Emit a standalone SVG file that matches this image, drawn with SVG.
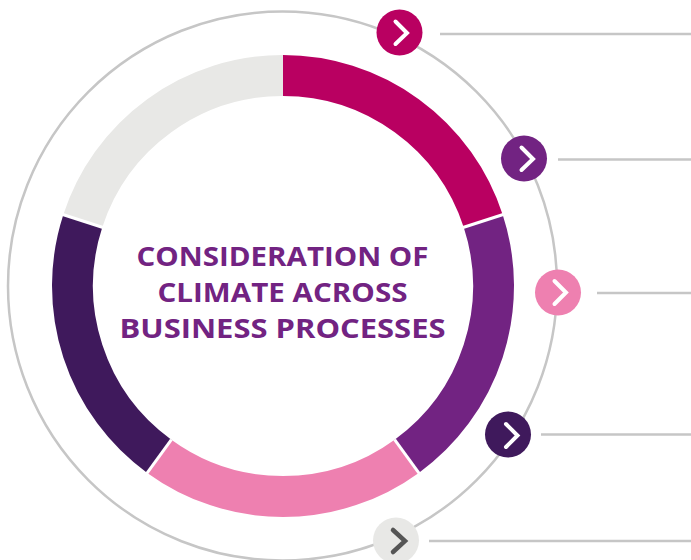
<svg xmlns="http://www.w3.org/2000/svg" width="691" height="560" viewBox="0 0 691 560">
<style>
.seg{fill:none;stroke-width:41}
.sep{stroke:#fff;stroke-width:3}
.lead{stroke:#c6c6c6;stroke-width:2.500;fill:none}
.chev{fill:none;stroke:#fff;stroke-width:4;stroke-linecap:round;stroke-linejoin:miter}
.title{font-family:"Open Sans","Liberation Sans",sans-serif;font-weight:700;font-size:27px;fill:#722382;text-anchor:middle}
</style>
<rect width="691" height="560" fill="#fff"/>
<g id="connectors">
<circle class="lead" cx="282.500" cy="286" r="274.500"/>
<line class="lead" x1="440" y1="34" x2="691" y2="34"/>
<line class="lead" x1="558" y1="159.500" x2="691" y2="159.500"/>
<line class="lead" x1="597" y1="293" x2="691" y2="293"/>
<line class="lead" x1="541" y1="434.500" x2="691" y2="434.500"/>
<line class="lead" x1="429" y1="541" x2="691" y2="541"/>
</g>
<g id="ring">
<path class="seg" stroke="#b90061" d="M283 75.500A210.500 210.500 0 0 1 483.200 221"/>
<path class="seg" stroke="#722382" d="M483.200 221A210.500 210.500 0 0 1 406.700 456.300"/>
<path class="seg" stroke="#ee80b0" d="M406.700 456.300A210.500 210.500 0 0 1 159.300 456.300"/>
<path class="seg" stroke="#3f195c" d="M159.300 456.300A210.500 210.500 0 0 1 82.800 221"/>
<path class="seg" stroke="#e8e8e6" d="M82.800 221A210.500 210.500 0 0 1 283 75.500"/>
<line class="sep" x1="463" y1="227.500" x2="504" y2="214.200"/>
<line class="sep" x1="394.600" y1="439.600" x2="419.900" y2="474.400"/>
<line class="sep" x1="171.400" y1="439.600" x2="146.100" y2="474.400"/>
<line class="sep" x1="103" y1="227.500" x2="62" y2="214.200"/>
</g>
<g id="title">
<text class="title" x="282.500" y="266" textLength="292" lengthAdjust="spacingAndGlyphs">CONSIDERATION OF</text>
<text class="title" x="282.500" y="302" textLength="250" lengthAdjust="spacingAndGlyphs">CLIMATE ACROSS</text>
<text class="title" x="282.500" y="338" textLength="326" lengthAdjust="spacingAndGlyphs">BUSINESS PROCESSES</text>
</g>
<g id="node-1"><circle cx="399.500" cy="32.500" r="23" fill="#b90061"/><path class="chev" d="M395.500 21.500L407 33L395.500 44"/></g>
<g id="node-2"><circle cx="524" cy="158.500" r="23" fill="#722382"/><path class="chev" d="M521.500 147.500L533 159L521.500 170"/></g>
<g id="node-3"><circle cx="558" cy="292.500" r="23" fill="#ee80b0"/><path class="chev" d="M554.500 281L566 292.500L554.500 304"/></g>
<g id="node-4"><circle cx="508" cy="434.500" r="23" fill="#3f195c"/><path class="chev" d="M506 424L517.500 435.500L506 447"/></g>
<g id="node-5"><circle cx="396" cy="540.500" r="23" fill="#e8e8e6"/><path class="chev" style="stroke:#555;stroke-width:4.500" d="M393 530L405 541L393 552"/></g>
</svg>
